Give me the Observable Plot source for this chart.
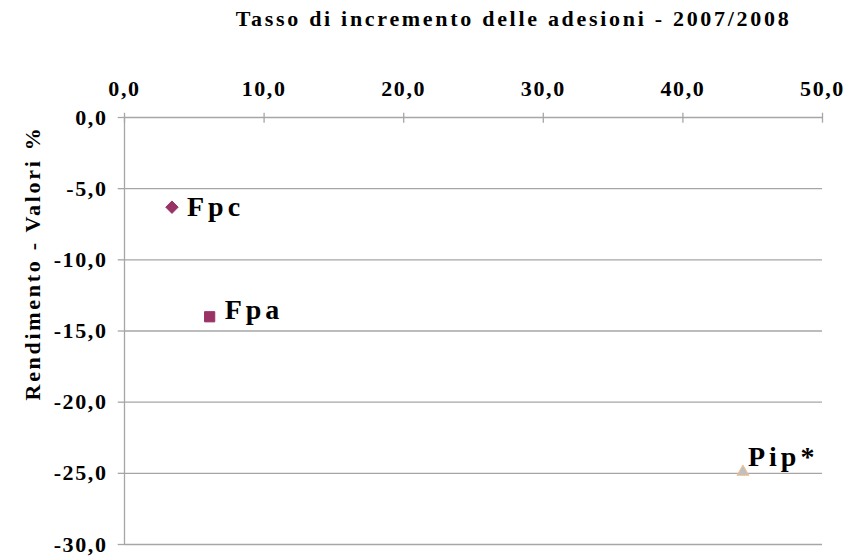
<!DOCTYPE html>
<html>
<head>
<meta charset="utf-8">
<script src="https://cdn.jsdelivr.net/npm/d3@7"></script>
<script src="https://cdn.jsdelivr.net/npm/@observablehq/plot@0.6"></script>
<style>
  html, body { margin: 0; padding: 0; background: #fff; }
  #chart svg { font-family: "Liberation Serif", "Times New Roman", serif; font-weight: bold; }
</style>
</head>
<body>
<div id="chart"></div>
<script>
const names = ["Fpc", "Fpa", "Pip*"];
const xValues = [3.4, 6.1, 44.3];
const yValues = [-6.3, -14.0, -24.9];
const symbols = ["diamond2", "square2", "triangle2"];
const fills = ["#993366", "#993366", "#c0c0c0"];
const strokes = ["#993366", "#993366", "#f7c18e"];
const xTicks = [0, 10, 20, 30, 40, 50];
const yTicks = [0, -5, -10, -15, -20, -25, -30];
const title = "Tasso di incremento delle adesioni - 2007/2008";
const yLabel = "Rendimento - Valori %";

const data = names.map((n, i) => ({name: n, x: xValues[i], y: yValues[i], symbol: symbols[i], fill: fills[i], stroke: strokes[i]}));
const fmt = d => d.toFixed(1).replace(".", ",");
const grid = "#a6a6a6";

const labelMark = (i, dx, dy) => Plot.text([data[i]], {
  x: "x", y: "y", text: "name", textAnchor: "start", dx, dy,
  fontSize: 28, fontWeight: "bold", fill: "#000"
});
const dotMark = (i, r) => Plot.dot([data[i]], {
  x: "x", y: "y", symbol: "symbol", fill: "fill", stroke: "stroke", r, strokeWidth: 1
});

const chart = Plot.plot({
  width: 847,
  height: 556,
  marginLeft: 124,
  marginRight: 25,
  marginTop: 117,
  marginBottom: 12,
  x: {domain: [0, 50]},
  y: {domain: [-30, 0]},
  marks: [
    Plot.ruleY(yTicks, {stroke: grid, strokeWidth: 1.3}),
    Plot.ruleX([0], {stroke: grid, strokeWidth: 1.3}),
    Plot.ruleX(xTicks, {y1: 0.3, y2: -0.4, stroke: grid, strokeWidth: 1.3}),
    Plot.ruleY(yTicks, {x1: 0, x2: -0.45, stroke: grid, strokeWidth: 1.3}),
    Plot.axisX({anchor: "top", ticks: xTicks, tickFormat: fmt, tickSize: 0, tickPadding: 22,
      label: null, fontSize: 22, fill: "#000"}),
    Plot.axisY({anchor: "left", ticks: yTicks, tickFormat: fmt, tickSize: 0, tickPadding: 17,
      label: null, fontSize: 22, fill: "#000"}),
    Plot.text([yLabel], {frameAnchor: "left", rotate: -90, textAnchor: "middle", lineAnchor: "middle",
      dx: -92, dy: -68, fontSize: 22, fontWeight: "bold", fill: "#000"}),
    Plot.text([title], {frameAnchor: "top", lineAnchor: "bottom", dy: -92, dx: 40, fontSize: 22,
      fontWeight: "bold", fill: "#000"}),
    dotMark(0, 5.6),
    dotMark(1, 6.5),
    dotMark(2, 5.7),
    labelMark(0, 15, 0),
    labelMark(1, 15, -7),
    labelMark(2, 5, -15)
  ]
});
const svg = d3.select(chart);
svg.selectAll("text").style("letter-spacing", "1.6px");
svg.selectAll('g[font-size="22"] > text').style("letter-spacing", "2.7px");
svg.selectAll('g[font-size="28"] text').style("letter-spacing", "4px");
svg.selectAll('g[aria-label="x-axis tick label"] text, g[aria-label="y-axis tick label"] text').style("letter-spacing", "1.6px");
document.getElementById("chart").appendChild(chart);
</script>
</body>
</html>
